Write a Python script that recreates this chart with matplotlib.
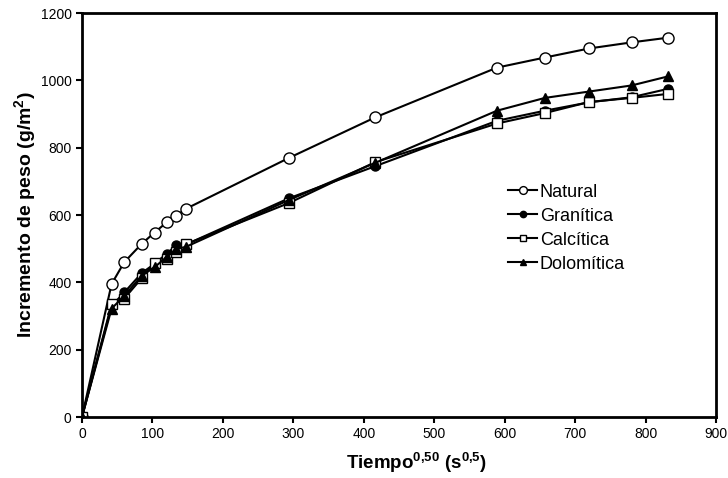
import matplotlib
matplotlib.use("Agg")
import matplotlib.pyplot as plt

plt.rcParams['font.family'] = ['Liberation Sans', 'DejaVu Sans']
plt.rcParams['mathtext.fontset'] = 'custom'
plt.rcParams['mathtext.rm'] = 'Liberation Sans'
plt.rcParams['mathtext.bf'] = 'Liberation Sans:bold'

# tiempo^0.5 (s^0.5)
tiempo = [0, 42, 60, 85, 103, 120, 134, 147, 294, 416, 589, 657, 720, 780, 832]

natural = [0, 395, 460, 515, 548, 578, 598, 618, 770, 890, 1038, 1068, 1095, 1113, 1127]
granitica = [0, 330, 370, 428, 455, 485, 510, 512, 650, 745, 880, 910, 935, 950, 975]
calcitica = [0, 335, 352, 413, 458, 470, 490, 513, 636, 757, 872, 903, 936, 948, 960]
dolomitica = [0, 322, 360, 420, 445, 475, 500, 505, 645, 755, 910, 948, 967, 985, 1012]

fig = plt.figure(figsize=(7.28, 4.78), dpi=100)
ax = fig.add_axes([0.1126, 0.1276, 0.871, 0.845])

ax.plot(tiempo, natural, '-o', color='black', mfc='white', mec='black', ms=8, lw=1.5, label='Natural')
ax.plot(tiempo, granitica, '-o', color='black', mfc='black', ms=6.5, lw=1.5, label='Granítica')
ax.plot(tiempo, calcitica, '-s', color='black', mfc='white', mec='black', ms=6.5, lw=1.5, label='Calcítica')
ax.plot(tiempo, dolomitica, '-^', color='black', mfc='black', ms=6.5, lw=1.5, label='Dolomítica')

ax.set_xlim(0, 900)
ax.set_ylim(0, 1200)
ax.set_xticks(range(0, 901, 100))
ax.set_yticks(range(0, 1201, 200))
ax.tick_params(direction='out', length=4, width=1.5, labelsize=10)
for s in ax.spines.values():
    s.set_linewidth(2)

ax.set_xlabel('Tiempo$^{\\mathbf{0{,}50}}$ (s$^{\\mathbf{0{,}5}}$)', fontsize=13.5, fontweight='bold')
ax.xaxis.set_label_coords(0.528, -0.082)
ax.set_ylabel('Incremento de peso (g/m$^{\\mathbf{2}}$)', fontsize=14, fontweight='bold', labelpad=1)

ax.legend(loc='upper left', bbox_to_anchor=(0.672, 0.578), frameon=False, fontsize=13,
          markerscale=0.7, handlelength=1.6, handletextpad=0.15, labelspacing=0.39,
          borderaxespad=0, borderpad=0)

fig.savefig('out.png', dpi=100)
